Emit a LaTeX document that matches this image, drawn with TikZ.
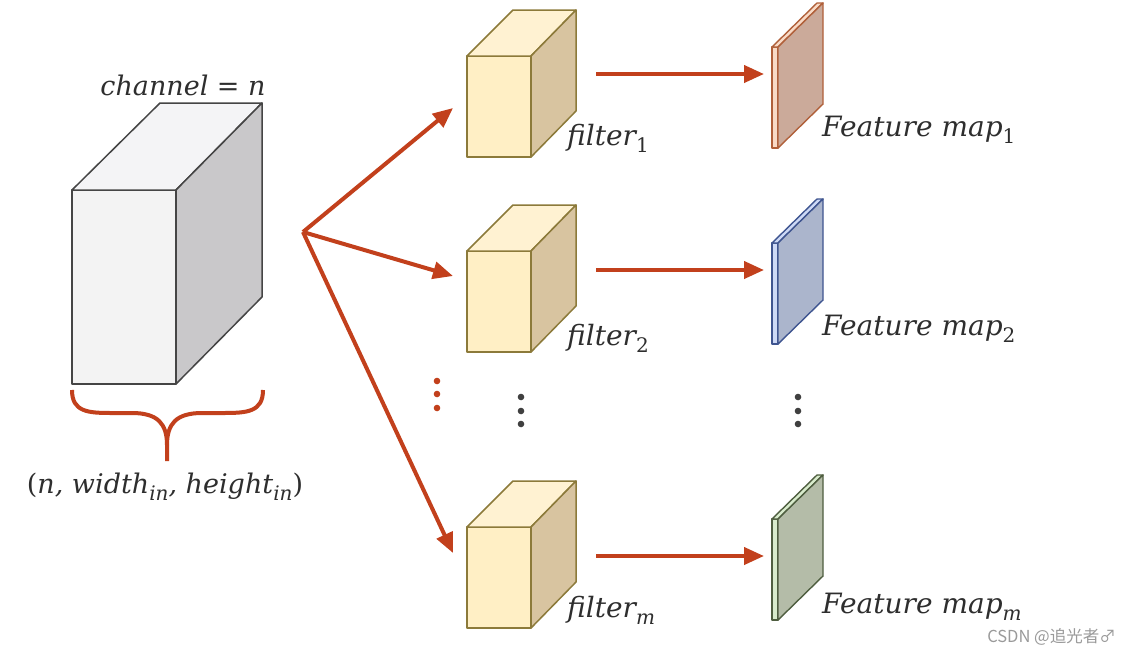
\documentclass[tikz,border=0pt]{standalone}
\usepackage{fontspec}
\newfontfamily\cjk{Noto Sans CJK SC}
\newfontfamily\lblfont{DejaVu Serif}
\usetikzlibrary{arrows.meta}
\newcommand\lsub[1]{\raisebox{-0.26em}{\fontsize{20}{20}\selectfont #1}}
\definecolor{arr}{HTML}{C2401C}
\definecolor{txt}{HTML}{2E2E2E}
\definecolor{cfront}{HTML}{F3F3F3}
\definecolor{ctop}{HTML}{F4F4F6}
\definecolor{cright}{HTML}{C9C8CA}
\definecolor{cline}{HTML}{454545}
\definecolor{ffront}{HTML}{FFEFC5}
\definecolor{ftop}{HTML}{FFF2D2}
\definecolor{fright}{HTML}{D8C4A0}
\definecolor{fline}{HTML}{8C7A3A}
\definecolor{mAfront}{HTML}{F9DAC6}
\definecolor{mAface}{HTML}{CBAA9A}
\definecolor{mAline}{HTML}{B0603A}
\definecolor{mBfront}{HTML}{CDD9F6}
\definecolor{mBface}{HTML}{ABB5CC}
\definecolor{mBline}{HTML}{3F5590}
\definecolor{mCfront}{HTML}{D8EBCC}
\definecolor{mCface}{HTML}{B4BCA8}
\definecolor{mCline}{HTML}{4F5E40}
\definecolor{dotgray}{HTML}{404040}
\definecolor{wm}{HTML}{9A9A9A}
\tikzset{
  lbl/.style={text=txt, font=\lblfont\itshape\fontsize{27}{32}\selectfont, inner sep=0pt},
  biglbl/.style={lbl, font=\lblfont\itshape\fontsize{28}{32}\selectfont},
  conn/.style={draw=arr, line width=4pt, -{Triangle[length=20pt,width=17pt]}},
  bigcube/.pic={
    \draw[cline, line width=1.5pt, line join=round, fill=cfront] (0,0) rectangle (104,194);
    \draw[cline, line width=1.5pt, line join=round, fill=ctop] (0,0)--(88,-87)--(190,-87)--(104,0)--cycle;
    \draw[cline, line width=1.5pt, line join=round, fill=cright] (104,0)--(190,-87)--(190,107)--(104,194)--cycle;
  },
  filterbox/.pic={
    \draw[fline, line width=1.5pt, line join=round, fill=ffront] (0,0) rectangle (64,101);
    \draw[fline, line width=1.5pt, line join=round, fill=ftop] (0,0)--(46,-46)--(109,-46)--(64,0)--cycle;
    \draw[fline, line width=1.5pt, line join=round, fill=fright] (64,0)--(109,-46)--(109,55)--(64,101)--cycle;
  },
  pics/fmap/.style n args={3}{code={
    \draw[#3, line width=1.4pt, line join=round, fill=#1] (0,0) rectangle (6,101);
    \draw[#3, line width=1.4pt, line join=round, fill=#1] (0,0)--(45,-44)--(51,-44)--(6,0)--cycle;
    \draw[#3, line width=1.4pt, line join=round, fill=#2] (6,0)--(51,-44)--(51,57)--(6,101)--cycle;
  }},
}
\begin{document}
\begin{tikzpicture}[x=1pt,y=-1pt]
\useasboundingbox[fill=white] (0,0) rectangle (1126,651);

% input volume
\pic at (72,190) {bigcube};
\node[lbl] (chan) at (183,85) {channel {\upshape=} n};
\draw[arr, line width=4pt]
  (72,390) .. controls (72,412) and (88,413) .. (112,413) -- (132,413)
  .. controls (158,413) and (167,424) .. (167,445) -- (167,461);
\draw[arr, line width=4pt]
  (263,390) .. controls (263,412) and (247,413) .. (223,413) -- (202,413)
  .. controls (176,413) and (167,424) .. (167,445);
\node[lbl] (shape) at (165,487) {{\upshape(}n, width\lsub{in}, height\lsub{in}{\upshape)}};

% filters
\pic at (467,56) {filterbox};
\pic at (467,251) {filterbox};
\pic at (467,527) {filterbox};
\node[biglbl, anchor=west] (f1) at (567,138) {filter\lsub{\upshape 1}};
\node[biglbl, anchor=west] (f2) at (567,338) {filter\lsub{\upshape 2}};
\node[biglbl, anchor=west] (fm) at (567,610) {filter\lsub{m}};

% feature maps
\pic at (772,47) {fmap={mAfront}{mAface}{mAline}};
\pic at (772,243) {fmap={mBfront}{mBface}{mBline}};
\pic at (772,519) {fmap={mCfront}{mCface}{mCline}};
\node[biglbl, anchor=west] (m1) at (822,130) {Feature map\lsub{\upshape 1}};
\node[biglbl, anchor=west] (m2) at (822,329) {Feature map\lsub{\upshape 2}};
\node[biglbl, anchor=west] (mm) at (822,607) {Feature map\lsub{m}};

% connectors
\coordinate (hub) at (303,232);
\coordinate (t1) at (453,108);
\coordinate (t2) at (453,276);
\coordinate (t3) at (453,553);
\draw[conn] (hub) -- (t1);
\draw[conn] (hub) -- (t2);
\draw[conn] (hub) -- (t3);
\coordinate (s1) at (596,74);  \coordinate (e1) at (764,74);
\coordinate (s2) at (596,270); \coordinate (e2) at (764,270);
\coordinate (s3) at (596,556); \coordinate (e3) at (764,556);
\draw[conn] (s1) -- (e1);
\draw[conn] (s2) -- (e2);
\draw[conn] (s3) -- (e3);

% dots
\foreach \yy in {381,394,408} \fill[arr] (437,\yy) circle (3.3);
\foreach \yy in {397,411,424} {
  \fill[dotgray] (521,\yy) circle (3.3);
  \fill[dotgray] (798,\yy) circle (3.3);
}

% watermark
\node[anchor=east, text=wm, inner sep=0pt, font=\cjk\fontsize{16.5}{18}\selectfont] (wmk) at (1116,637) {CSDN @追光者♂};
\end{tikzpicture}
\end{document}
